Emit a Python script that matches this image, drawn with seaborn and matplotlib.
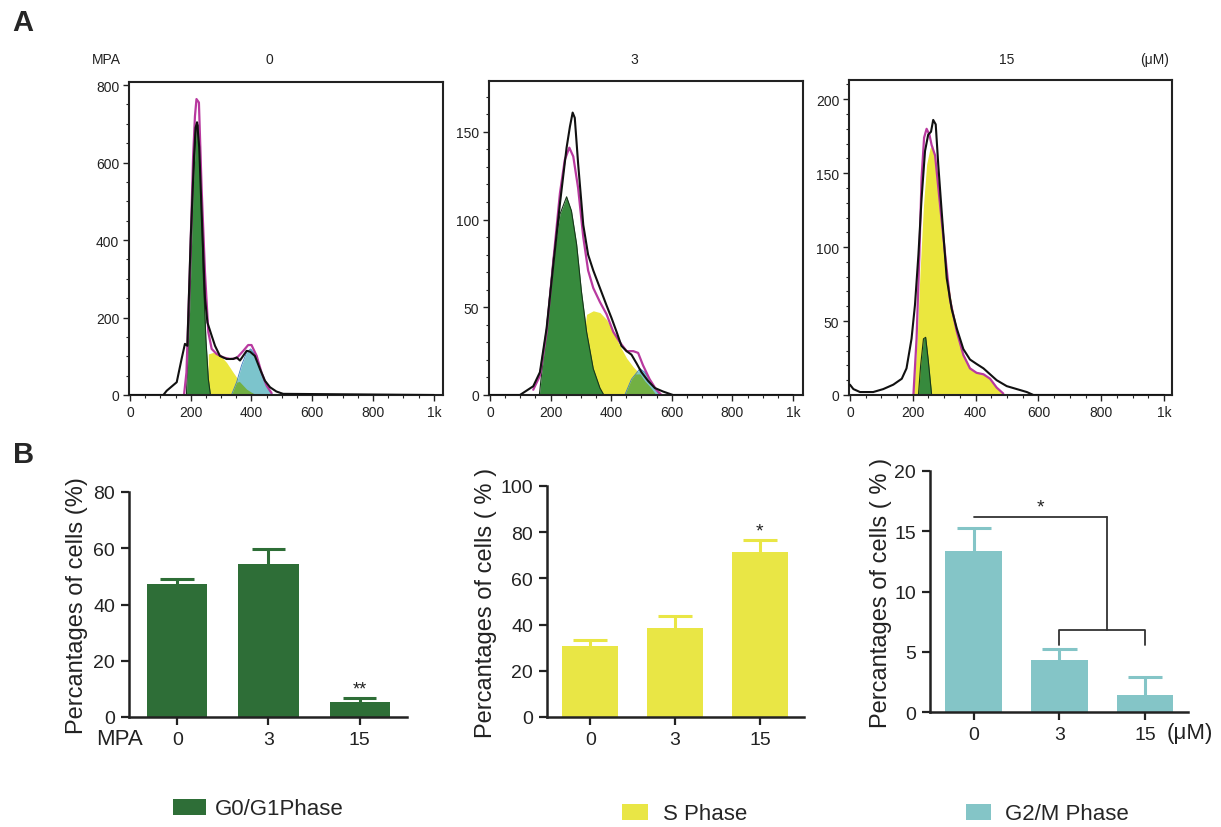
import numpy as np
import pandas as pd
import matplotlib
matplotlib.use("Agg")
import matplotlib.pyplot as plt
import seaborn as sns
from matplotlib.patches import Patch
from matplotlib.ticker import MultipleLocator

# ------------------------- DATA -------------------------
doses = ["0", "3", "15"]
g1_pct = [47.3, 54.4, 5.4]
g1_err = [1.8, 5.4, 1.4]
s_pct = [30.7, 38.5, 71.4]
s_err = [2.6, 5.2, 5.2]
g2_pct = [13.4, 4.3, 1.4]
g2_err = [1.9, 0.9, 1.5]

hist_xticks = [0, 200, 400, 600, 800, 1000]
hist_xlabels = ["0", "200", "400", "600", "800", "1k"]
hist_titles = ["0", "3", "15"]

# Histogram, MPA 0 uM
h0_black_x = [0, 110, 121, 154, 170, 181, 189, 200, 211, 216, 221, 228, 236, 247, 255, 269, 280,
              296, 318, 340, 351, 362, 384, 395, 411, 428, 444, 461, 482, 504, 1000]
h0_black_y = [0, 0, 11, 33, 93, 132, 127, 404, 617, 690, 704, 640, 470, 250, 187, 153, 127,
              101, 93, 93, 97, 89, 114, 112, 101, 67, 37, 20, 9, 3, 0]
h0_fit_x = [178, 186, 197, 208, 214, 219, 227, 236, 247, 258, 269, 285, 307, 329, 351, 373,
            389, 400, 417, 433, 450, 466]
h0_fit_y = [0, 58, 316, 617, 720, 764, 755, 531, 316, 162, 119, 106, 97, 93, 95, 114,
            129, 129, 101, 58, 24, 5]
h0_g1_x = [186, 197, 208, 219, 226, 233, 241, 250, 258, 265]
h0_g1_y = [0, 230, 531, 704, 695, 557, 316, 144, 41, 0]
h0_s_x = [255, 258, 274, 296, 318, 340, 362, 384, 406, 417]
h0_s_y = [0, 106, 110, 103, 84, 58, 33, 15, 5, 0]
h0_g2_x = [334, 351, 367, 384, 397, 411, 428, 444, 461, 471]
h0_g2_y = [0, 33, 76, 110, 119, 106, 67, 33, 9, 0]
h0_ov_x = [334, 351, 360, 372, 384, 400, 417]
h0_ov_y = [0, 33, 35, 25, 15, 7, 0]

# Histogram, MPA 3 uM
h3_black_x = [0, 99, 121, 143, 165, 187, 209, 231, 253, 264, 273, 280, 291, 308, 324, 341, 363,
              385, 401, 418, 434, 451, 467, 484, 500, 522, 544, 571, 604, 1000]
h3_black_y = [0, 0, 2.5, 5, 13, 38, 74, 109, 141, 153, 161, 158, 132, 97, 80, 71, 61,
              51, 44, 36, 28, 25, 23, 18, 13, 8, 4, 2, 0, 0]
h3_fit_x = [143, 165, 187, 209, 231, 247, 262, 275, 291, 308, 324, 341, 363, 385, 407, 429,
            451, 473, 489, 505, 527, 549, 566]
h3_fit_y = [3, 11, 36, 76, 115, 134, 141, 136, 118, 90, 71, 61, 53, 46, 36, 30,
            25, 25, 24, 17, 9, 3, 0]
h3_g1_x = [163, 187, 209, 231, 253, 269, 286, 302, 319, 341, 363, 376]
h3_g1_y = [0, 38, 78, 103, 113, 105, 86, 59, 36, 15, 4, 0]
h3_s_x = [280, 300, 319, 341, 363, 385, 407, 429, 451, 473, 495, 517, 538, 549]
h3_s_y = [0, 20, 46, 48, 47, 43, 36, 28, 21, 16, 12, 7, 2, 0]
h3_g2_x = [445, 467, 495, 511, 527, 544, 560]
h3_g2_y = [0, 9, 15, 13, 9, 4, 0]
h3_ov_x = [445, 467, 480, 495, 511, 527, 549]
h3_ov_y = [0, 9, 12, 12, 8, 5, 0]

# Histogram, MPA 15 uM
h15_black_x = [0, 11, 32, 74, 106, 138, 165, 180, 196, 207, 218, 228, 239, 249, 258, 265, 273,
               281, 292, 308, 324, 340, 361, 382, 403, 425, 446, 467, 499, 531, 563, 584, 1000]
h15_black_y = [7, 4, 2, 2, 4, 7, 11, 18, 38, 61, 95, 133, 165, 176, 178, 186, 183,
               156, 124, 79, 58, 45, 31, 24, 21, 18, 14, 10, 6, 4, 2, 0, 0]
h15_fit_x = [202, 212, 221, 228, 236, 244, 253, 260, 271, 287, 303, 318, 340, 361, 382, 403,
             425, 446, 467, 488]
h15_fit_y = [0, 38, 95, 147, 174, 180, 176, 169, 162, 128, 95, 65, 43, 27, 18, 15,
             14, 11, 5, 1]
h15_g1_x = [218, 225, 234, 241, 249, 260]
h15_g1_y = [0, 20, 38, 39, 24, 0]
h15_s_x = [202, 214, 223, 234, 244, 255, 263, 276, 292, 308, 324, 340, 361, 382, 403, 425,
           446, 467, 488]
h15_s_y = [0, 38, 83, 128, 156, 167, 169, 151, 115, 83, 61, 45, 28, 19, 15, 14,
           11, 5, 0]

# ------------------------- STYLE -------------------------
sns.set_theme(style="ticks")
plt.rcParams["font.family"] = ["Liberation Sans", "DejaVu Sans"]
plt.rcParams["axes.unicode_minus"] = False

W, H = 1221, 828
fig = plt.figure(figsize=(W / 100, H / 100), dpi=100)
fig.patch.set_facecolor("white")


def rect(l, t, r, b):
    return [l / W, 1 - b / H, (r - l) / W, (b - t) / H]


HG = "#378a3d"
HY = "#ebe73e"
HC = "#7cc4cc"
HO = "#72b043"
MAG = "#b8399f"

hist_data = [
    dict(black=(h0_black_x, h0_black_y), fit=(h0_fit_x, h0_fit_y), g1=(h0_g1_x, h0_g1_y),
         s=(h0_s_x, h0_s_y), g2=(h0_g2_x, h0_g2_y), ov=(h0_ov_x, h0_ov_y),
         rect=(129, 83, 443, 396), xlim=(-3, 1030), ylim=(0, 808), ymaj=200, ymin=50),
    dict(black=(h3_black_x, h3_black_y), fit=(h3_fit_x, h3_fit_y), g1=(h3_g1_x, h3_g1_y),
         s=(h3_s_x, h3_s_y), g2=(h3_g2_x, h3_g2_y), ov=(h3_ov_x, h3_ov_y),
         rect=(489, 82, 803, 396), xlim=(-3, 1033), ylim=(0, 179), ymaj=50, ymin=10),
    dict(black=(h15_black_x, h15_black_y), fit=(h15_fit_x, h15_fit_y), g1=(h15_g1_x, h15_g1_y),
         s=(h15_s_x, h15_s_y), g2=None, ov=None,
         rect=(849, 81, 1172, 396), xlim=(-3, 1025), ylim=(0, 213), ymaj=50, ymin=10),
]

for hd in hist_data:
    ax = fig.add_axes(rect(*hd["rect"]))
    ax.fill_between(hd["s"][0], hd["s"][1], color=HY, lw=0, zorder=1)
    if hd["g2"] is not None:
        ax.fill_between(hd["g2"][0], hd["g2"][1], color=HC, lw=0, zorder=1.2)
        ax.plot(hd["g2"][0], hd["g2"][1], color="#3a7bbf", lw=0.6, zorder=1.3)
        ax.fill_between(hd["ov"][0], hd["ov"][1], color=HO, lw=0, zorder=1.4)
    ax.fill_between(hd["g1"][0], hd["g1"][1], color=HG, lw=0, zorder=1.5)
    ax.plot(hd["g1"][0], hd["g1"][1], color="#17351a", lw=0.8, zorder=1.6)
    sns.lineplot(x=hd["fit"][0], y=hd["fit"][1], color=MAG, lw=1.6, ax=ax,
                 sort=False, estimator=None, zorder=2)
    sns.lineplot(x=hd["black"][0], y=hd["black"][1], color="#111111", lw=1.5, ax=ax,
                 sort=False, estimator=None, zorder=3)
    ax.set_xlim(*hd["xlim"])
    ax.set_ylim(*hd["ylim"])
    ax.set_xticks(hist_xticks)
    ax.set_xticklabels(hist_xlabels)
    ax.xaxis.set_minor_locator(MultipleLocator(50))
    ax.yaxis.set_major_locator(MultipleLocator(hd["ymaj"]))
    ax.yaxis.set_minor_locator(MultipleLocator(hd["ymin"]))
    for sp in ax.spines.values():
        sp.set_visible(True)
        sp.set_linewidth(1.5)
        sp.set_color("#222222")
    ax.tick_params(which="major", direction="out", length=4, width=1, labelsize=10,
                   colors="#222222", pad=3)
    ax.tick_params(which="minor", direction="out", length=2.5, width=0.8, colors="#222222")
    ax.set_xlabel("")
    ax.set_ylabel("")

# top titles
for txt, x in [("MPA", 106), ("0", 269), ("3", 634), ("15", 1007), ("(\u03bcM)", 1155)]:
    fig.text(x / W, 1 - 60 / H, txt, ha="center", va="center", fontsize=10, color="#222222")

fig.text(23 / W, 1 - 23 / H, "A", ha="center", va="center", fontsize=21, fontweight="bold")
fig.text(24 / W, 1 - 455 / H, "B", ha="center", va="center", fontsize=21, fontweight="bold")

# ------------------------- BAR PANELS -------------------------
BG = "#2e6e37"
BY = "#e9e645"
BC = "#84c5c7"

bar_specs = [
    dict(vals=g1_pct, errs=g1_err, col=BG, rect=(129, 493, 407, 718), xlim=(-0.53, 2.52),
         ylim=(0, 80), ystep=20, ylabel="Percantages of cells (%)", lab_x=-0.147,
         leg="G0/G1Phase", leg_x=173, leg_y=810, hl=33, pad=9, cap=0.185),
    dict(vals=s_pct, errs=s_err, col=BY, rect=(547, 487, 804, 718), xlim=(-0.51, 2.52),
         ylim=(0, 100), ystep=20, ylabel="Percantages of cells ( % )", lab_x=-0.195,
         leg="S Phase", leg_x=622, leg_y=815, hl=26, pad=15, cap=0.2),
    dict(vals=g2_pct, errs=g2_err, col=BC, rect=(930, 472, 1188, 713), xlim=(-0.51, 2.50),
         ylim=(0, 20), ystep=5, ylabel="Percantages of cells ( % )", lab_x=-0.147,
         leg="G2/M Phase", leg_x=966, leg_y=815, hl=25, pad=14, cap=0.2),
]

bar_axes = []
for bs in bar_specs:
    ax = fig.add_axes(rect(*bs["rect"]))
    df = pd.DataFrame({"dose": doses, "pct": bs["vals"]})
    sns.barplot(data=df, x="dose", y="pct", order=doses, color=bs["col"], saturation=1,
                width=0.66, errorbar=None, ax=ax, linewidth=0)
    pos = np.arange(len(doses))
    vals = np.array(bs["vals"])
    tops = vals + np.array(bs["errs"])
    ax.vlines(pos, vals, tops, color=bs["col"], lw=2.2, zorder=1)
    ax.hlines(tops, pos - bs["cap"], pos + bs["cap"], color=bs["col"], lw=2.2, zorder=1)
    ax.set_xlim(*bs["xlim"])
    ax.set_ylim(*bs["ylim"])
    ax.yaxis.set_major_locator(MultipleLocator(bs["ystep"]))
    sns.despine(ax=ax)
    for s in ("left", "bottom"):
        ax.spines[s].set_linewidth(1.8)
        ax.spines[s].set_color("#222222")
    ax.tick_params(direction="out", length=6, width=1.6, labelsize=14, colors="#222222", pad=4)
    ax.set_xlabel("")
    ax.set_ylabel(bs["ylabel"], fontsize=17, color="#222222")
    ax.yaxis.set_label_coords(bs["lab_x"], 0.5)
    fs_px = 16 * 100 / 72
    fig.legend(handles=[Patch(facecolor=bs["col"], edgecolor="none")], labels=[bs["leg"]],
               loc="center left", bbox_to_anchor=(bs["leg_x"] / W, 1 - bs["leg_y"] / H),
               frameon=False, fontsize=16, borderpad=0, borderaxespad=0,
               handlelength=bs["hl"] / fs_px, handleheight=17 / fs_px,
               handletextpad=bs["pad"] / fs_px)
    bar_axes.append(ax)

# significance marks
ax1, ax2, ax3 = bar_axes
ax1.text(2, g1_pct[2] + g1_err[2] + 3.2, "**", ha="center", va="center", fontsize=13,
         color="#222222")
ax2.text(2, s_pct[2] + s_err[2] + 4.0, "*", ha="center", va="center", fontsize=14,
         color="#222222")
br_top, br_low, br_leg, br_mid = 16.2, 6.8, 5.6, 1.56
ax3.plot([0, br_mid], [br_top, br_top], color="#333333", lw=1.3)
ax3.plot([br_mid, br_mid], [br_top, br_low], color="#333333", lw=1.3)
ax3.plot([1, 1, 2, 2], [br_leg, br_low, br_low, br_leg], color="#333333", lw=1.3)
ax3.text(0.78, 17.0, "*", ha="center", va="center", fontsize=14, color="#222222")

fig.text(119 / W, 1 - 740 / H, "MPA", ha="center", va="center", fontsize=16, color="#222222")
fig.text(1190 / W, 1 - 734 / H, "(\u03bcM)", ha="center", va="center", fontsize=16,
         color="#222222")

fig.savefig("out.png", dpi=100, facecolor="white")
